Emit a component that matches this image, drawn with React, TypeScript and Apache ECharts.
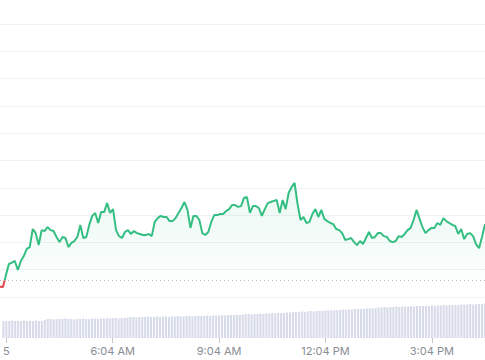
import React, { useEffect, useRef } from "react";
import * as echarts from "echarts";

// 5-minute samples starting at 2:59 AM
const startMinute = 179;
const stepMinutes = 5;

const prices = [
  60.38, 60.37, 60.81, 61.21, 61.26, 61.32, 60.99, 61.32, 61.5, 61.76, 61.83,
  62.49, 62.34, 61.9, 62.45, 62.42, 62.56, 62.45, 62.42, 62.2, 62.01,
  62.2, 62.16, 61.83, 61.98, 62.05, 62.2, 62.64, 62.16, 62.2, 62.64,
  62.97, 63.08, 62.71, 63.11, 63.11, 63.44, 63.08, 63.22, 62.45, 62.23,
  62.16, 62.38, 62.45, 62.31, 62.42, 62.34, 62.31, 62.27, 62.27, 62.31,
  62.23, 62.75, 62.89, 62.97, 62.93, 62.93, 62.78, 62.78, 62.89, 63.08,
  63.26, 63.48, 63.19, 62.53, 62.97, 62.97, 62.82, 62.34, 62.27, 62.38,
  62.75, 63.0, 63.0, 63.04, 63.04, 63.15, 63.22, 63.37, 63.37, 63.3,
  63.33, 63.63, 63.66, 63.08, 63.33, 63.33, 63.26, 62.97, 63.22, 63.44,
  63.48, 63.52, 63.55, 63.08, 63.55, 63.22, 63.81, 64.03, 64.18, 63.41,
  62.82, 62.93, 62.71, 62.75, 63.04, 63.22, 62.93, 63.19, 62.86, 62.78,
  62.71, 62.67, 62.49, 62.45, 62.34, 62.09, 62.12, 62.16, 62.01, 61.9,
  62.05, 61.94, 62.16, 62.38, 62.16, 62.2, 62.34, 62.34, 62.23, 62.2,
  62.05, 62.01, 62.05, 62.23, 62.2, 62.31, 62.45, 62.53, 62.82, 63.19,
  62.86, 62.56, 62.34, 62.45, 62.53, 62.53, 62.71, 62.64, 62.89, 62.78,
  62.71, 62.64, 62.6, 62.31, 62.49, 62.12, 62.31, 62.34, 62.23, 61.94,
  61.79, 62.2, 62.67,
];

const volumes = [
  17, 17, 17, 17.5, 17, 17, 17, 17.5, 17, 17, 17, 17.5, 17, 17, 18,
  19, 19, 18.5, 19, 19, 19, 19.5, 19, 19, 18.5, 19, 19, 19.5, 19, 19, 19.5, 19.5, 19, 19.5, 19.5, 20, 19.5, 20, 20, 19.5, 20, 20,
  20.5, 21, 21, 20.5, 21, 21, 21, 21.5, 21, 21, 21.5, 21, 21.5, 21.5, 21, 21.5, 21.5, 22, 21.5, 21.5, 22, 22, 21.5, 22, 22, 22,
  22, 22.5, 22, 22.5, 22.5, 22.5, 23, 22.5, 23, 23, 23, 23.5, 23, 23.5,
  24, 24, 23.5, 24, 24, 24.5, 24, 24.5, 24.5, 25, 24.5, 25, 25, 25, 25.5,
  25.5, 26, 26, 26, 26.5, 26, 26.5, 27, 26.5, 27, 27, 27, 27.5, 27.5, 27.5,
  28, 28, 28, 28.5, 28, 28.5, 28.5, 29, 29, 29, 29, 29.5, 29.5, 29.5, 30,
  30.5, 30.5, 31, 30.5, 31, 31, 31.5, 31, 31.5, 31.5, 31.5, 32, 31.5, 32, 32,
  32, 32, 32, 32.5, 32, 32.5, 32.5, 33, 32.5, 33, 33, 33,
  33, 33.5, 33.5, 33.5, 34, 33.5, 34, 34, 34, 34.5,
];

const openPrice = 60.62;

const tickTimes = ["3:04 AM", "6:04 AM", "9:04 AM", "12:04 PM", "3:04 PM"];
const tickLabels = ["5", "6:04 AM", "9:04 AM", "12:04 PM", "3:04 PM"];

function formatTime(m: number): string {
  const h = Math.floor(m / 60) % 24;
  const mm = m % 60;
  const ap = h < 12 ? "AM" : "PM";
  const h12 = h % 12 === 0 ? 12 : h % 12;
  return `${h12}:${String(mm).padStart(2, "0")} ${ap}`;
}

const times = prices.map((_, i) => formatTime(startMinute + i * stepMinutes));

const GREEN = "#34be82";
const RED = "#e0454a";
const WIDTH = 485;
const HEIGHT = 360;

export default function App() {
  const ref = useRef<HTMLDivElement>(null);

  useEffect(() => {
    if (!ref.current) return;
    const chart = echarts.init(ref.current, null, { renderer: "svg" });
    chart.setOption({
      animation: false,
      backgroundColor: "#ffffff",
      grid: [
        { left: 0, right: 0, top: 24, bottom: 63 },
        { left: 0, right: 0, top: 300, bottom: 22 },
      ],
      xAxis: [
        { type: "category", gridIndex: 0, data: times, boundaryGap: false, show: false },
        {
          type: "category",
          gridIndex: 1,
          data: times,
          boundaryGap: false,
          axisLine: { show: false },
          axisTick: { show: true, length: 5, lineStyle: { color: "#c4c6cc", width: 1 } },
          axisLabel: {
            interval: (_i: number, v: string) => tickTimes.includes(v),
            formatter: (v: string) => {
              const k = tickTimes.indexOf(v);
              return k >= 0 ? tickLabels[k] : "";
            },
            color: "#8a8d93",
            fontSize: 11,
            fontFamily: "Inter, 'Noto Sans', sans-serif",
            margin: 7,
          },
          splitLine: { show: false },
        },
      ],
      yAxis: [
        {
          type: "value",
          gridIndex: 0,
          min: 60,
          max: 70,
          interval: 1,
          axisLabel: { show: false },
          axisLine: { show: false },
          axisTick: { show: false },
          splitLine: { show: true, lineStyle: { color: "#f1f2f4", width: 1 } },
        },
        { type: "value", gridIndex: 1, min: 0, max: 38, show: false, splitLine: { show: false } },
      ],
      series: [
        {
          id: "price",
          type: "line",
          xAxisIndex: 0,
          yAxisIndex: 0,
          data: prices,
          showSymbol: false,
          symbol: "none",
          lineStyle: { width: 2, color: GREEN },
          areaStyle: {
            origin: openPrice,
            color: new echarts.graphic.LinearGradient(0, 0, 0, 1, [
              { offset: 0, color: "rgba(52,190,130,0.14)" },
              { offset: 1, color: "rgba(52,190,130,0.02)" },
            ]),
          },
          markLine: {
            silent: true,
            symbol: ["none", "none"],
            label: { show: false },
            lineStyle: { type: [1, 3], color: "#b8b8b8", width: 1 },
            data: [{ yAxis: openPrice }],
          },
          z: 3,
        },
        {
          type: "bar",
          xAxisIndex: 1,
          yAxisIndex: 1,
          data: volumes,
          barWidth: "70%",
          itemStyle: { color: "#d7dae9" },
          z: 2,
        },
      ],
    });
    // colour the line red below the opening price, green above
    const yPx = chart.convertToPixel({ yAxisIndex: 0 }, openPrice) as number;
    if (typeof yPx === "number" && isFinite(yPx)) {
      const f = Math.min(1, Math.max(0, yPx / HEIGHT));
      chart.setOption({
        series: [
          {
            id: "price",
            lineStyle: {
              width: 2,
              color: new echarts.graphic.LinearGradient(
                0, 0, 0, HEIGHT,
                [
                  { offset: 0, color: GREEN },
                  { offset: f, color: GREEN },
                  { offset: f, color: RED },
                  { offset: 1, color: RED },
                ],
                true
              ),
            },
          },
        ],
      });
    }
    return () => chart.dispose();
  }, []);

  return (
    <div
      ref={ref}
      style={{ position: "fixed", left: 0, top: 0, width: WIDTH, height: HEIGHT }}
    />
  );
}
